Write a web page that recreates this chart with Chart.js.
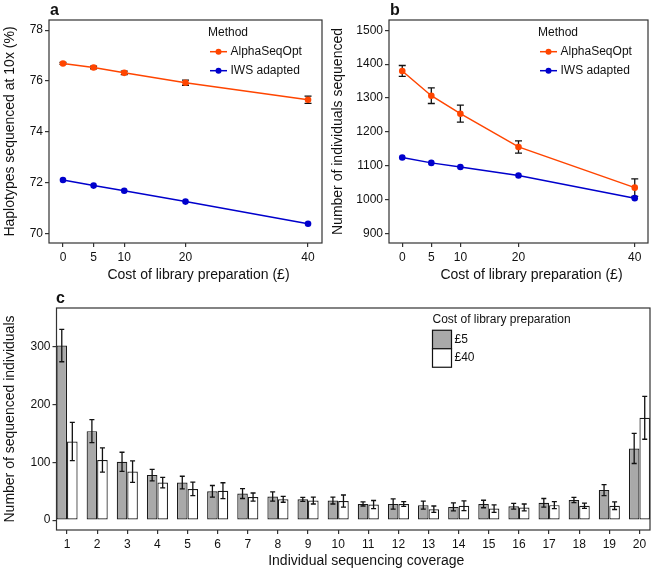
<!DOCTYPE html>
<html>
<head>
<meta charset="utf-8">
<script src="https://cdn.jsdelivr.net/npm/chart.js@4.4.1/dist/chart.umd.min.js"></script>
<style>
  html, body { margin: 0; padding: 0; background: #fff; }
  #wrap { position: relative; width: 652px; height: 570px; }
  canvas { position: absolute; }
</style>
</head>
<body>
<div id="wrap">
  <canvas id="chartA" width="326" height="290" style="left:0;top:0"></canvas>
  <canvas id="chartB" width="326" height="290" style="left:326px;top:0"></canvas>
  <canvas id="chartC" width="652" height="280" style="left:0;top:290px"></canvas>
</div>
<script>
// panels a and b: x = cost of library preparation
const costs = [0, 5, 10, 20, 40];
const hapAlpha = [76.69, 76.53, 76.32, 75.93, 75.26];
const hapAlphaErr = [0.04, 0.05, 0.07, 0.1, 0.14];
const hapIws = [72.1, 71.88, 71.68, 71.25, 70.38];
const indAlpha = [1380, 1307, 1254, 1156, 1036];
const indAlphaErr = [16, 23, 25, 18, 26];
const indIws = [1125, 1109, 1097, 1072, 1005];
const hapTicks = [70, 72, 74, 76, 78];
const indTicks = [900, 1000, 1100, 1200, 1300, 1400, 1500];

// panel c: x = individual sequencing coverage
const coverage = [1, 2, 3, 4, 5, 6, 7, 8, 9, 10, 11, 12, 13, 14, 15, 16, 17, 18, 19, 20];
const count5 = [302, 154, 101, 78, 65, 50, 46, 41, 36, 34, 28, 28, 26, 23, 28, 24, 30, 35, 52, 124];
const count5Err = [28, 20, 16.5, 10, 11, 10, 8.5, 8, 3.5, 6, 3.5, 9, 7, 7, 6.5, 5, 7.5, 4.5, 9.5, 26];
const count40 = [136, 104, 84, 65, 54, 51, 40, 36, 34, 33, 27, 28, 19, 25, 20, 22, 26, 25, 25, 177];
const count40Err = [33, 21, 18.5, 9, 11.7, 13.7, 7, 5, 6, 10.5, 7, 4, 5.5, 8.5, 6.5, 6, 6, 4.5, 6.5, 37];
const countTicks = [0, 100, 200, 300];

const FONT = '"Liberation Sans", Arial, Helvetica, sans-serif';
const INK = '#111';
const ORANGE = '#FF4500';
const BLUE = '#0000CC';
Chart.defaults.font.family = FONT;
Chart.defaults.color = INK;

function pts(xs, ys) {
  return xs.map((x, i) => ({ x: x, y: ys[i] }));
}

// error bars, box, x title, panel letter and inset legend
const decor = {
  id: 'decor',
  drawErrors(chart, onTop) {
    const ctx = chart.ctx;
    const yScale = chart.scales.y;
    chart.data.datasets.forEach((ds, di) => {
      if (!ds.errors || !!ds.errorsOnTop !== onTop) return;
      const meta = chart.getDatasetMeta(di);
      ctx.save();
      ctx.strokeStyle = '#111';
      ctx.lineWidth = 1.3;
      meta.data.forEach((el, i) => {
        const v = ds.data[i].y, e = ds.errors[i];
        const y1 = yScale.getPixelForValue(v - e);
        const y2 = yScale.getPixelForValue(v + e);
        const c = ds.capWidth;
        ctx.beginPath();
        ctx.moveTo(el.x, y1); ctx.lineTo(el.x, y2);
        ctx.moveTo(el.x - c, y1); ctx.lineTo(el.x + c, y1);
        ctx.moveTo(el.x - c, y2); ctx.lineTo(el.x + c, y2);
        ctx.stroke();
      });
      ctx.restore();
    });
  },
  beforeDatasetsDraw(chart) { this.drawErrors(chart, false); },
  afterDatasetsDraw(chart) { this.drawErrors(chart, true); },
  afterDraw(chart, args, o) {
    const { ctx, chartArea: a } = chart;
    ctx.save();
    ctx.strokeStyle = '#333';
    ctx.lineWidth = 1.2;
    ctx.strokeRect(a.left, a.top, a.right - a.left, a.bottom - a.top);

    ctx.fillStyle = INK;
    ctx.textBaseline = 'middle';
    ctx.textAlign = 'center';
    ctx.font = '14px ' + FONT;
    ctx.fillText(o.xTitle, (a.left + a.right) / 2 + 13, o.xTitleY);

    ctx.textAlign = 'left';
    ctx.font = 'bold 16px ' + FONT;
    ctx.fillText(o.letter, o.letterX, o.letterY);

    const lg = o.legend;
    ctx.font = '12px ' + FONT;
    ctx.fillText(lg.title, lg.x, lg.y);
    chart.data.datasets.forEach((ds, i) => {
      const y = lg.y + lg.first + i * lg.step;
      if (lg.kind === 'line') {
        ctx.strokeStyle = ds.borderColor;
        ctx.lineWidth = 1.5;
        ctx.beginPath();
        ctx.moveTo(lg.x + 2, y); ctx.lineTo(lg.x + 19, y);
        ctx.stroke();
        ctx.fillStyle = ds.borderColor;
        ctx.beginPath();
        ctx.arc(lg.x + 10.5, y, 3, 0, Math.PI * 2);
        ctx.fill();
        ctx.fillStyle = INK;
        ctx.fillText(ds.label, lg.x + 22.5, y);
      } else {
        ctx.fillStyle = ds.backgroundColor;
        ctx.fillRect(lg.x, y - lg.step / 2, 19, lg.step);
        ctx.strokeStyle = '#111';
        ctx.lineWidth = 1.2;
        ctx.strokeRect(lg.x, y - lg.step / 2, 19, lg.step);
        ctx.fillStyle = INK;
        ctx.fillText(ds.label, lg.x + 22, y);
      }
    });
    ctx.restore();
  }
};
Chart.register(decor);

function axisOpts(cfg) {
  const vertical = cfg.position === 'left';
  return {
    type: 'linear',
    position: cfg.position,
    min: cfg.min,
    max: cfg.max,
    offset: false,
    afterBuildTicks: s => { s.ticks = cfg.ticks.map(v => ({ value: v })); },
    afterFit: s => { if (vertical) s.width = cfg.size; else s.height = cfg.size; },
    grid: { display: true, offset: false, drawOnChartArea: false, drawTicks: true, tickLength: 4, color: '#333', lineWidth: 1.2 },
    border: { display: false },
    ticks: {
      font: { size: 12 }, color: INK, padding: cfg.tickPad,
      autoSkip: false, maxRotation: 0, minRotation: 0,
      callback: v => String(v)
    },
    title: {
      display: !!cfg.title, text: cfg.title || '', color: INK, font: { size: 14 },
      padding: { top: cfg.titlePad || 0, bottom: cfg.titlePad || 0 }
    }
  };
}

function lineChart(id, alpha, alphaErr, iws, yCfg, extra) {
  new Chart(document.getElementById(id), {
    type: 'line',
    data: {
      datasets: [
        {
          label: 'AlphaSeqOpt', data: pts(costs, alpha), errors: alphaErr, capWidth: 3.5,
          borderColor: ORANGE, backgroundColor: ORANGE, borderWidth: 1.5,
          pointRadius: 3.3, pointBorderWidth: 0, tension: 0
        },
        {
          label: 'IWS adapted', data: pts(costs, iws),
          borderColor: BLUE, backgroundColor: BLUE, borderWidth: 1.5,
          pointRadius: 3.3, pointBorderWidth: 0, tension: 0
        }
      ]
    },
    options: {
      responsive: false,
      animation: false,
      layout: { padding: extra.padding },
      scales: {
        x: axisOpts({ position: 'bottom', min: -2.28, max: 42.28, ticks: costs, size: 47, tickPad: 3 }),
        y: yCfg
      },
      plugins: {
        legend: { display: false },
        tooltip: { enabled: false },
        decor: {
          xTitle: 'Cost of library preparation (£)', xTitleY: 275.5,
          letter: extra.letter, letterX: extra.letterX, letterY: 11,
          legend: { kind: 'line', title: 'Method', x: extra.legX, y: 33, first: 18.7, step: 19 }
        }
      }
    }
  });
}

lineChart('chartA', hapAlpha, hapAlphaErr, hapIws,
  axisOpts({ position: 'left', min: 69.62, max: 78.4, ticks: hapTicks, size: 49,
    tickPad: 2, title: 'Haplotypes sequenced at 10x (%)', titlePad: 1.6 }),
  { padding: { top: 20, right: 3, left: 0, bottom: 0 }, letter: 'a', letterX: 50, legX: 208 });

lineChart('chartB', indAlpha, indAlphaErr, indIws,
  axisOpts({ position: 'left', min: 872.8, max: 1530.2, ticks: indTicks, size: 63,
    tickPad: 2, title: 'Number of individuals sequenced', titlePad: 3.6 }),
  { padding: { top: 20, right: 4, left: 0, bottom: 0 }, letter: 'b', letterX: 64, legX: 212 });

new Chart(document.getElementById('chartC'), {
  type: 'bar',
  data: {
    datasets: [
      {
        label: '£5', data: pts(coverage, count5), errors: count5Err, errorsOnTop: true, capWidth: 2.5,
        backgroundColor: '#A9A9A9', borderColor: '#1a1a1a', borderWidth: 1.2, borderSkipped: false
      },
      {
        label: '£40', data: pts(coverage, count40), errors: count40Err, errorsOnTop: true, capWidth: 2.5,
        backgroundColor: '#FFFFFF', borderColor: '#1a1a1a', borderWidth: 1.2, borderSkipped: false
      }
    ]
  },
  options: {
    responsive: false,
    animation: false,
    categoryPercentage: 0.7,
    barPercentage: 1,
    layout: { padding: { top: 18, right: 2, left: 0, bottom: 0 } },
    scales: {
      x: axisOpts({ position: 'bottom', min: 0.65, max: 20.35, ticks: coverage, size: 40, tickPad: 3 }),
      y: axisOpts({ position: 'left', min: -17, max: 367, ticks: countTicks, size: 56.5,
        tickPad: 2, title: 'Number of sequenced individuals', titlePad: 2 })
    },
    plugins: {
      legend: { display: false },
      tooltip: { enabled: false },
      decor: {
        xTitle: 'Individual sequencing coverage', xTitleY: 271,
        letter: 'c', letterX: 56, letterY: 9,
        legend: { kind: 'box', title: 'Cost of library preparation', x: 432.5, y: 30, first: 19.5, step: 18.5 }
      }
    }
  }
});
</script>
</body>
</html>
